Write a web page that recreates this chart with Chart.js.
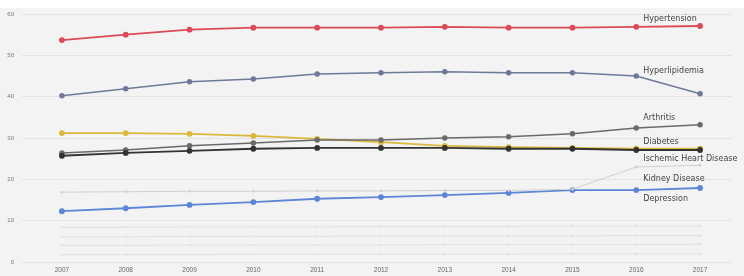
<!DOCTYPE html>
<html>
<head>
<meta charset="utf-8">
<script src="https://cdn.jsdelivr.net/npm/chart.js@4/dist/chart.umd.min.js"></script>
<style>
    html, body { margin: 0; padding: 0; background: #fff; }
    #wrap { position: absolute; left: 0; top: 8px; width: 744px; height: 268px; background: #f3f3f3; }
</style>
</head>
<body>
<div id="wrap"><canvas id="myChart" width="744" height="268"></canvas></div>
<script>
const years = ['2007', '2008', '2009', '2010', '2011', '2012', '2013', '2014', '2015', '2016', '2017'];
const yTicks = [0, 10, 20, 30, 40, 50, 60];

const hypertension   = [53.7, 55.0, 56.2, 56.7, 56.7, 56.7, 56.9, 56.7, 56.7, 56.9, 57.1];
const hyperlipidemia = [40.2, 41.9, 43.6, 44.3, 45.5, 45.8, 46.0, 45.8, 45.8, 45.0, 40.7];
const arthritis      = [26.4, 27.1, 28.1, 28.8, 29.5, 29.5, 30.0, 30.3, 31.0, 32.4, 33.2];
const diabetes       = [31.2, 31.2, 31.0, 30.5, 29.8, 29.0, 28.1, 27.8, 27.6, 27.4, 27.4];
const ischemic       = [25.7, 26.4, 26.9, 27.4, 27.6, 27.6, 27.6, 27.4, 27.4, 27.1, 27.1];
const kidney         = [16.9, 17.0, 17.1, 17.1, 17.2, 17.2, 17.3, 17.3, 17.6, 23.0, 23.4];
const depression     = [12.3, 13.0, 13.8, 14.5, 15.3, 15.7, 16.2, 16.7, 17.4, 17.4, 17.9];
const otherA         = [8.4, 8.4, 8.5, 8.5, 8.5, 8.6, 8.6, 8.6, 8.7, 8.7, 8.7];
const otherB         = [6.1, 6.1, 6.2, 6.2, 6.2, 6.3, 6.3, 6.3, 6.3, 6.4, 6.4];
const otherC         = [4.0, 4.0, 4.1, 4.1, 4.1, 4.1, 4.2, 4.2, 4.2, 4.2, 4.3];
const otherD         = [1.8, 1.8, 1.8, 1.9, 1.9, 1.9, 1.9, 1.9, 2.0, 2.0, 2.0];

// label names and the value each label sits at (drawn next to 2016)
const labelNames  = ['Hypertension', 'Hyperlipidemia', 'Arthritis', 'Diabetes', 'Ischemic Heart Disease', 'Kidney Disease', 'Depression'];
const labelValues = [58.8, 46.2, 34.8, 29.0, 24.9, 20.1, 15.2];

function series(label, data, color, width, radius) {
    return {
        label: label,
        data: data,
        borderColor: color,
        backgroundColor: color,
        borderWidth: width,
        pointRadius: radius,
        pointHoverRadius: radius,
        tension: 0
    };
}

const sideLabels = {
    id: 'sideLabels',
    afterDatasetsDraw(chart) {
        const ctx = chart.ctx;
        const x = chart.scales.x.getPixelForValue(9) + 7;
        ctx.save();
        ctx.font = '8px "DejaVu Sans", sans-serif';
        ctx.fillStyle = '#444';
        ctx.textAlign = 'left';
        ctx.textBaseline = 'middle';
        labelNames.forEach((name, i) => {
            ctx.fillText(name, x, chart.scales.y.getPixelForValue(labelValues[i]));
        });
        ctx.restore();
    }
};

const ctx = document.getElementById('myChart').getContext('2d');
new Chart(ctx, {
    type: 'line',
    data: {
        labels: years,
        datasets: [
            series('Other A', otherA, '#e2e2e2', 1, 1),
            series('Other B', otherB, '#e2e2e2', 1, 1),
            series('Other C', otherC, '#e2e2e2', 1, 1),
            series('Other D', otherD, '#e2e2e2', 1, 1),
            series('Kidney Disease', kidney, '#d0d0d0', 1, 1),
            series('Depression', depression, '#5d86d6', 1.8, 2),
            series('Ischemic Heart Disease', ischemic, '#333333', 1.8, 2),
            series('Arthritis', arthritis, '#6a6a6a', 1.5, 2),
            series('Diabetes', diabetes, '#d9b83c', 1.8, 2),
            series('Hyperlipidemia', hyperlipidemia, '#6c7a98', 1.5, 2),
            series('Hypertension', hypertension, '#dc4a55', 1.8, 2)
        ]
    },
    options: {
        responsive: false,
        animation: false,
        layout: { padding: { top: 6, right: 12, left: 0, bottom: 0 } },
        plugins: {
            legend: { display: false },
            tooltip: { enabled: false }
        },
        scales: {
            x: {
                offset: true,
                grid: { display: false, drawTicks: false },
                border: { display: false },
                ticks: { color: '#666', font: { size: 6.5 }, padding: 4, maxRotation: 0 },
                afterFit(scale) { scale.height = 14; }
            },
            y: {
                min: 0,
                max: 60,
                afterBuildTicks(scale) { scale.ticks = yTicks.map(v => ({ value: v })); },
                grid: { color: '#e3e3e3', lineWidth: 1 },
                border: { display: false },
                ticks: { color: '#777', font: { size: 6 }, padding: 8 },
                afterFit(scale) {
                    scale.width = 30;
                    scale.paddingTop = 0;
                    scale.paddingBottom = 0;
                }
            }
        }
    },
    plugins: [sideLabels]
});
</script>
</body>
</html>
